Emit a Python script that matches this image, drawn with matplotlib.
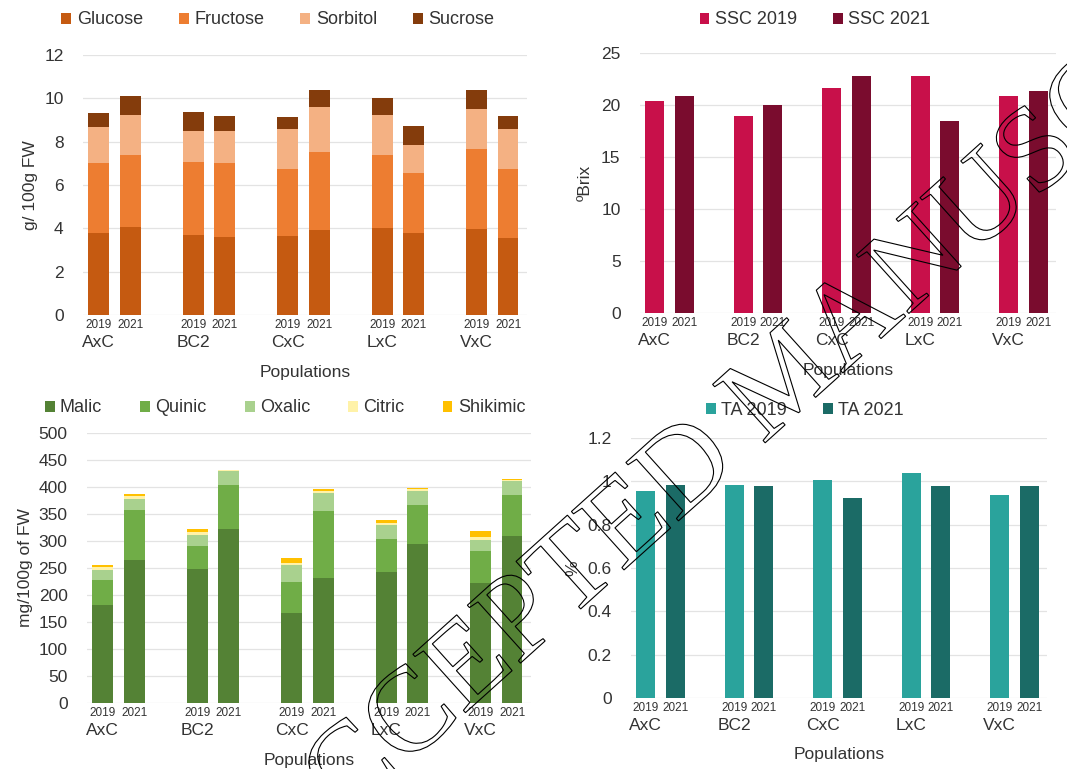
import numpy as np
import matplotlib
matplotlib.use("Agg")
import matplotlib.pyplot as plt
from matplotlib.textpath import TextPath
from matplotlib.patches import PathPatch
from matplotlib.font_manager import FontProperties
from matplotlib.transforms import Affine2D
from matplotlib.ticker import FuncFormatter

plt.rcParams['font.family'] = ['Liberation Sans', 'DejaVu Sans']

populations = ["AxC", "BC2", "CxC", "LxC", "VxC"]
years = ["2019", "2021"]

# sugars, g/100g FW, order: AxC 2019, AxC 2021, BC2 2019, ...
glucose = [3.77, 4.08, 3.69, 3.62, 3.66, 3.92, 4.03, 3.77, 3.97, 3.54]
fructose = [3.23, 3.30, 3.39, 3.38, 3.08, 3.62, 3.34, 2.80, 3.68, 3.20]
sorbitol = [1.66, 1.85, 1.41, 1.49, 1.83, 2.06, 1.86, 1.28, 1.85, 1.83]
sucrose = [0.68, 0.87, 0.89, 0.71, 0.58, 0.78, 0.80, 0.89, 0.88, 0.61]

# soluble solids, ºBrix
ssc_2019 = [20.35, 18.97, 21.6, 22.76, 20.83]
ssc_2021 = [20.9, 20.0, 22.76, 18.43, 21.38]

# organic acids, mg/100g FW
malic = [182, 265, 249, 322, 167, 231, 242, 295, 222, 310]
quinic = [45, 92, 42, 82, 57, 125, 62, 72, 60, 76]
oxalic = [20, 21, 21, 26, 31, 32, 26, 26, 20, 25]
citric = [4, 5, 5, 1, 5, 5, 4, 3, 6, 2]
shikimic = [5, 4, 5, 1, 9, 4, 4, 3, 11, 2]

# titratable acidity, %
ta_2019 = [0.957, 0.985, 1.008, 1.04, 0.938]
ta_2021 = [0.985, 0.977, 0.923, 0.977, 0.977]

W, H = 1067, 769
fig = plt.figure(figsize=(W / 100, H / 100), dpi=100)


def make_axes(left, right, top, bottom):
    return fig.add_axes([left / W, 1 - bottom / H, (right - left) / W, (bottom - top) / H])


pos = np.array([g * 3 + y for g in range(len(populations)) for y in range(2)])
pos19 = pos[0::2]
pos21 = pos[1::2]


def style(ax, ymax, step, ylabel, label_px, left_px, width_px, fmt=None):
    ax.set_xlim(-0.5, 13.6)
    ax.set_ylim(0, ymax)
    ax.set_yticks(np.arange(0, ymax + step / 2, step))
    if fmt:
        ax.yaxis.set_major_formatter(FuncFormatter(fmt))
    ax.yaxis.grid(True, color='#e3e3e3', lw=0.9)
    ax.set_axisbelow(True)
    for s in ax.spines.values():
        s.set_visible(False)
    ax.tick_params(axis='y', length=0, labelsize=12.5, pad=14, colors='#333333')
    ax.tick_params(axis='x', length=0, labelsize=8.5, pad=3, colors='#333333')
    ax.set_xticks(pos)
    ax.set_xticklabels(years * len(populations))
    for g, name in enumerate(populations):
        ax.annotate(name, xy=(g * 3, 0), xycoords=('data', 'axes fraction'),
                    xytext=(0, -20), textcoords='offset points',
                    ha='center', va='center', fontsize=12.5, color='#333333')
    ax.set_xlabel("Populations", fontsize=12.5, labelpad=24, color='#333333')
    ax.set_ylabel(ylabel, fontsize=12.5, color='#333333')
    ax.yaxis.set_label_coords((label_px + 8 - left_px) / width_px, 0.5)


def legend(ax, cx, cy, ncol, spacing):
    ax.legend(loc='center', bbox_to_anchor=(cx / W, 1 - cy / H), bbox_transform=fig.transFigure,
              ncol=ncol, frameon=False, fontsize=13, handlelength=0.55, handleheight=0.55,
              handletextpad=0.3, columnspacing=spacing, labelcolor='#333333')


bw = 0.66

# sugars
ax1 = make_axes(83, 527, 55, 315)
bottom = np.zeros(10)
for vals, col, lab in [(glucose, '#c55a11', 'Glucose'), (fructose, '#ed7d31', 'Fructose'),
                       (sorbitol, '#f4b183', 'Sorbitol'), (sucrose, '#843c0c', 'Sucrose')]:
    ax1.bar(pos, vals, bw, bottom=bottom, color=col, label=lab)
    bottom += np.array(vals)
style(ax1, 12, 2, "g/ 100g FW", 30, 83, 444)
legend(ax1, 278, 20, 4, 2.0)

# SSC
ax2 = make_axes(640, 1056, 53, 313)
ax2.bar(pos19, ssc_2019, 0.64, color='#c8104a', label='SSC 2019')
ax2.bar(pos21, ssc_2021, 0.64, color='#7a0c2e', label='SSC 2021')
style(ax2, 25, 5, "ºBrix", 585, 640, 416)
legend(ax2, 815, 20, 2, 2.0)

# acids
ax3 = make_axes(87, 531, 433, 703)
bottom = np.zeros(10)
for vals, col, lab in [(malic, '#548235', 'Malic'), (quinic, '#70ad47', 'Quinic'),
                       (oxalic, '#a9d18e', 'Oxalic'), (citric, '#fff2a8', 'Citric'),
                       (shikimic, '#ffc000', 'Shikimic')]:
    ax3.bar(pos, vals, bw, bottom=bottom, color=col, label=lab)
    bottom += np.array(vals)
style(ax3, 500, 50, "mg/100g of FW", 25, 87, 444)
legend(ax3, 285, 408, 5, 2.1)

# TA
ax4 = make_axes(631, 1047, 438, 698)
ax4.bar(pos19, ta_2019, 0.64, color='#2aa39c', label='TA 2019')
ax4.bar(pos21, ta_2021, 0.64, color='#1b6b66', label='TA 2021')
style(ax4, 1.2, 0.2, "%", 572, 631, 416, fmt=lambda v, p: format(round(v, 1), 'g'))
legend(ax4, 805, 410, 2, 2.0)

# watermark, outlined letters
tp = TextPath((0, 0), "ACCEPTED MANUSCRIPT", size=120,
              prop=FontProperties(family='Liberation Serif'))
ext = tp.get_extents()
tr = (Affine2D().translate(-(ext.x0 + ext.x1) / 2, -(ext.y0 + ext.y1) / 2)
      .rotate_deg(42).translate(782, H - 375).scale(1 / 100) + fig.dpi_scale_trans)
fig.patches.append(PathPatch(tp, transform=tr, facecolor='none', edgecolor='black',
                             lw=0.8, zorder=10))

fig.savefig("out.png", dpi=100)
